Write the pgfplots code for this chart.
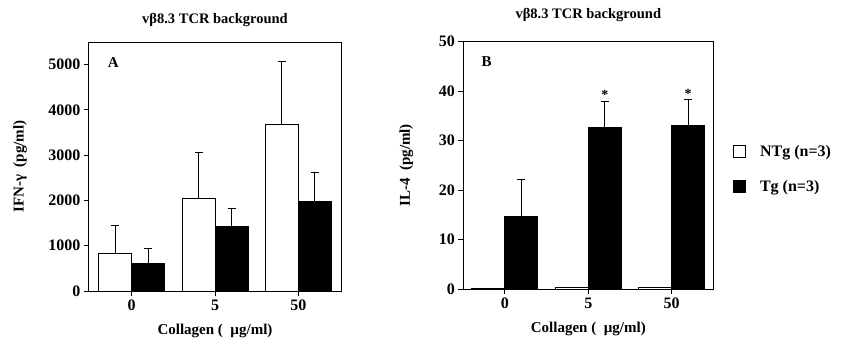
\documentclass[border=0pt]{standalone}
\usepackage{fontspec}
\setmainfont{Liberation Serif}
\usepackage{pgfplots}
\pgfplotsset{compat=1.18}
\begin{document}
\begin{tikzpicture}[x=1pt,y=1pt]
\useasboundingbox (0,0) rectangle (850,349);
\pgfplotsset{
  common/.style={
    scale only axis,
    anchor=south west,
    axis line style={line width=1pt},
    tick align=outside,
    tick pos=left,
    major tick length=5pt,
    every tick/.style={black, line width=1pt},
    xtick={0,1,2},
    xticklabels={0,5,50},
    /pgf/number format/assume math mode=true,
    /pgf/number format/1000 sep={},
    ticklabel style={font=\bfseries\fontsize{16}{17}\selectfont},
    label style={font=\bfseries\fontsize{15}{16}\selectfont},
    title style={font=\bfseries\fontsize{14.5}{15}\selectfont, anchor=center},
    xlabel={Collagen (\ \ µg/ml)},
    xlabel style={at={(rel axis cs:0.5,0)}, anchor=center, yshift=-40pt},
    ybar,
    bar width=33pt,
  },
  errs/.style={
    error bars/.cd, y dir=plus, y explicit,
    error bar style={line width=1pt, black},
    error mark options={line width=1pt, mark size=4pt, black, rotate=90},
  },
}
% Panel A
\begin{axis}[common,
  at={(89pt,58pt)}, width=252pt, height=249pt,
  xmin=-0.51, xmax=2.51, ymin=0, ymax=5500,
  ytick={0,1000,2000,3000,4000,5000},
  ylabel={IFN-γ\ \ (pg/ml)},
  ylabel style={at={(rel axis cs:0,0.5)}, anchor=center, yshift=69pt},
  title={vβ8.3 TCR background},
  title style={at={(rel axis cs:0.5,1)}, yshift=16pt},
]
\addplot[bar shift=-16.5pt, fill=white, draw=black, line width=1pt, errs]
  coordinates {(0,836) +- (0,604) (1,2047) +- (0,1013) (2,3674) +- (0,1397)};
\addplot[bar shift=16.5pt, fill=black, draw=black, line width=1pt, errs]
  coordinates {(0,614) +- (0,333) (1,1426) +- (0,392) (2,1967) +- (0,656)};
\node[font=\bfseries\fontsize{15}{16}\selectfont] at (axis cs:-0.22,5055) {A};
\end{axis}
% Panel B
\begin{axis}[common,
  at={(463.3pt,60pt)}, width=250pt, height=247.3pt,
  xmin=-0.5, xmax=2.5, ymin=0, ymax=50,
  ytick={0,10,20,30,40,50},
  ylabel={IL-4\ \ (pg/ml)},
  ylabel style={at={(rel axis cs:0,0.5)}, anchor=center, yshift=57pt},
  title={vβ8.3 TCR background},
  title style={at={(rel axis cs:0.5,1)}, yshift=21pt},
  legend style={draw=none, at={(1.079,0.485)}, anchor=west, inner xsep=0pt,
    font=\bfseries\fontsize{16}{17}\selectfont, row sep=18pt,
    /tikz/every odd column/.append style={column sep=12pt}},
  legend cell align=left,
  legend image code/.code={\draw[#1, line width=0.8pt] (0pt,-6pt) rectangle (12pt,6pt);},
]
\addplot[bar shift=-16.5pt, fill=white, draw=black, line width=1pt]
  coordinates {(0,0.1) (1,0.3) (2,0.4)};
\addlegendentry{NTg (n=3)}
\addplot[bar shift=16.5pt, fill=black, draw=black, line width=1pt, errs]
  coordinates {(0,14.7) +- (0,7.5) (1,32.7) +- (0,5.3) (2,33.0) +- (0,5.3)};
\addlegendentry{Tg (n=3)}
\addplot[bar shift=16.5pt, draw=none, fill=none, forget plot,
  nodes near coords, point meta=explicit symbolic,
  every node near coord/.append style={font=\bfseries\fontsize{14}{14}\selectfont, anchor=south, yshift=-2pt}]
  coordinates {(1,38.0) [*] (2,38.3) [*]};
\node[font=\bfseries\fontsize{15}{16}\selectfont] at (axis cs:-0.22,45.9) {B};
\end{axis}
\end{tikzpicture}
\end{document}
